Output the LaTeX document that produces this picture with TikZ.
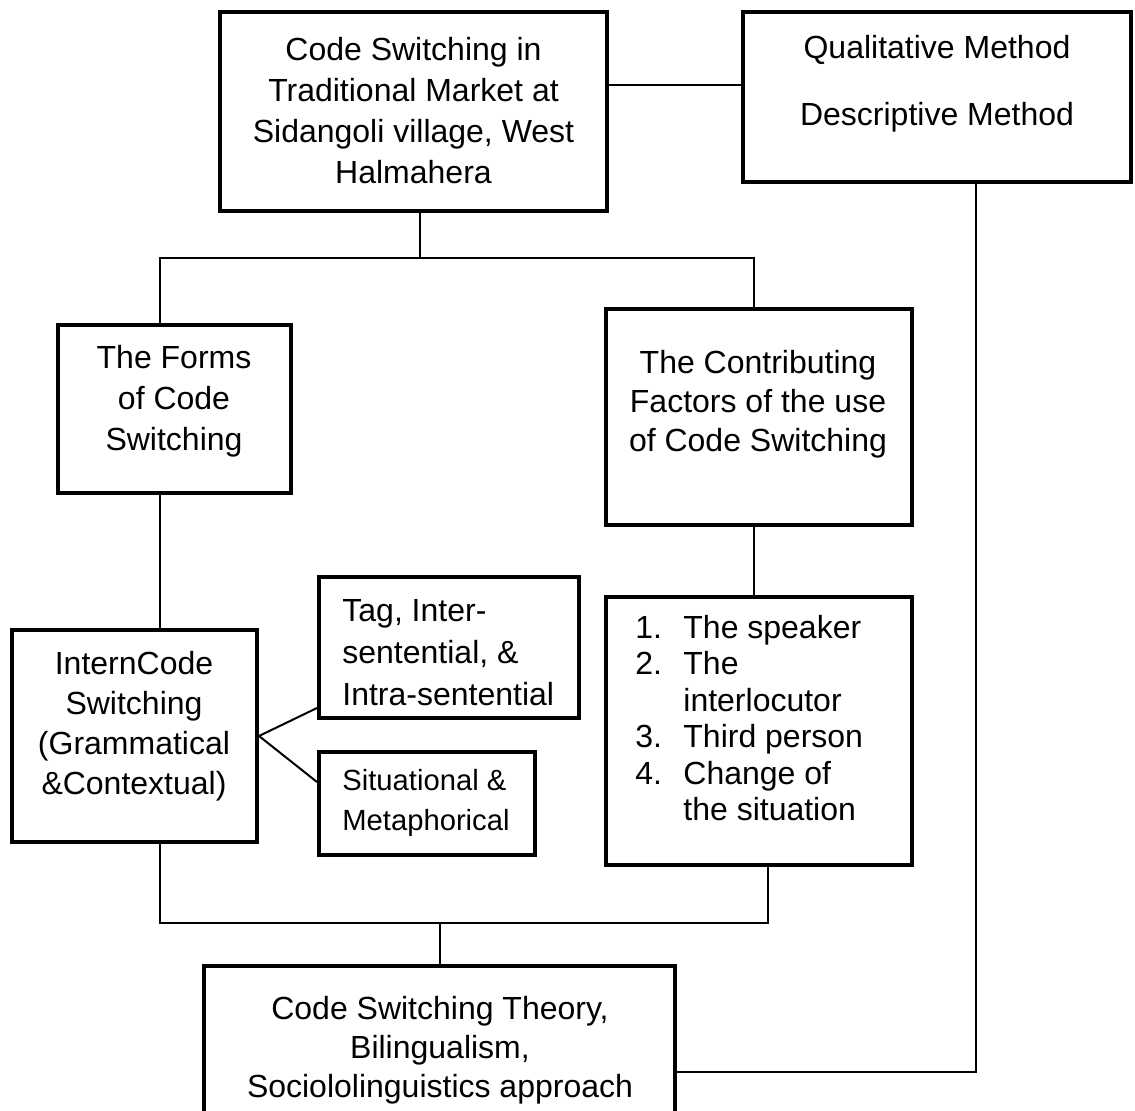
\documentclass[tikz,border=0pt]{standalone}
\usepackage{fontspec}
\setmainfont{Liberation Sans}
\begin{document}
\begin{tikzpicture}[x=0.5pt,y=-0.5pt,
  box/.style={draw, line width=2pt, inner sep=0pt},
  conn/.style={line width=1pt},
  txt/.style={inner sep=0pt, align=center, font=\fontsize{16}{20.5}\selectfont},
  txtl/.style={inner sep=0pt, align=left, anchor=west, font=\fontsize{16}{21}\selectfont}]
\clip (0,0) rectangle (1135,1111);
\fill[white] (0,0) rectangle (1135,1111);
% boxes
\node[box, minimum width=193.5pt, minimum height=99.5pt] (top) at (413.5,111.5) {};
\node[txt] (toptxt) at (413.5,111) {Code Switching in\\Traditional Market at\\Sidangoli village, West\\Halmahera};
\node[box, minimum width=194pt, minimum height=85pt] (meth) at (937,97) {};
\node[txt] (methA) at (937,50) {Qualitative Method};
\node[txt] (methB) at (937,117) {Descriptive Method};
\node[box, minimum width=116.5pt, minimum height=84pt] (forms) at (174.5,409) {};
\node[txt] (formstxt) at (174,401) {The Forms\\of Code\\Switching};
\node[box, minimum width=153pt, minimum height=108pt] (contrib) at (759,417) {};
\node[txt, font=\fontsize{16}{19.5}\selectfont] (contribtxt) at (758,404) {The Contributing\\Factors of the use\\of Code Switching};
\node[box, minimum width=153pt, minimum height=134pt] (list) at (759,731) {};
\node[inner sep=0pt, anchor=west, font=\fontsize{16}{18.25}\selectfont] (listtxt) at (635,722) {\begin{tabular}{@{}p{24pt}@{}l@{}}1.&The speaker\\2.&The\\&interlocutor\\3.&Third person\\4.&Change of\\&the situation\end{tabular}};
\node[box, minimum width=122.5pt, minimum height=106pt] (intern) at (134.5,736) {};
\node[txt, font=\fontsize{16}{20}\selectfont] (interntxt) at (134,726) {InternCode\\Switching\\(Grammatical\\\&Contextual)};
\node[box, minimum width=130pt, minimum height=70.5pt] (tag) at (449,647.5) {};
\node[txtl] (tagtxt) at (342,653) {Tag, Inter-\\sentential, \&\\Intra-sentential};
\node[box, minimum width=108pt, minimum height=51.5pt] (sit) at (427,803.5) {};
\node[txtl, font=\fontsize{14.6}{20}\selectfont] (sittxt) at (342,803) {Situational \&\\Metaphorical};
\node[box, minimum width=235.5pt, minimum height=82pt] (bot) at (439.5,1048) {};
\node[txt, font=\fontsize{16}{19.5}\selectfont] (bottxt) at (440,1050) {Code Switching Theory,\\Bilingualism,\\Sociololinguistics approach};
% junctions
\coordinate (j0) at (675,85);
\coordinate (jA) at (420,258);
\coordinate (jL) at (160,258);
\coordinate (jR) at (754,258);
\coordinate (jT) at (319,708);
\coordinate (jS) at (319,782);
\coordinate (kL) at (160,923);
\coordinate (kM) at (440,923);
\coordinate (kR) at (768,923);
\coordinate (jV) at (976,1072);
% connectors
\draw[conn] (top.east |- j0) -- (meth.west |- j0);
\draw[conn] (top.south -| jA) -- (jA);
\draw[conn] (forms.north -| jL) -- (jL) -- (jR) -- (contrib.north -| jR);
\draw[conn] (contrib.south -| jR) -- (list.north -| jR);
\draw[conn] (forms.south -| jL) -- (intern.north -| jL);
\draw[conn] (intern.east) -- (tag.west |- jT);
\draw[conn] (intern.east) -- (sit.west |- jS);
\draw[conn] (intern.south -| kL) -- (kL) -- (kR) -- (list.south -| kR);
\draw[conn] (kM) -- (bot.north -| kM);
\draw[conn] (meth.south -| jV) -- (jV) -- (bot.east |- jV);
\end{tikzpicture}
\end{document}
